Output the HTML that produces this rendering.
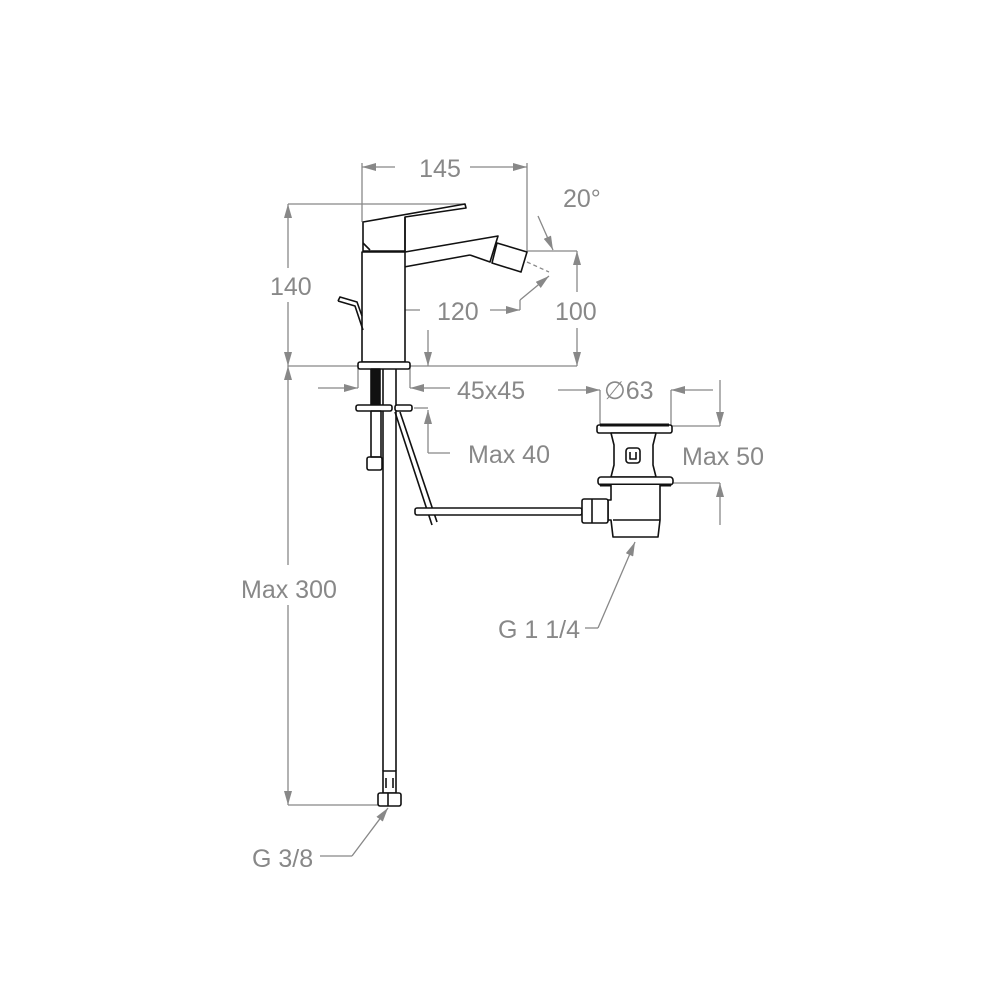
<!DOCTYPE html>
<html><head><meta charset="utf-8"><style>
html,body{margin:0;padding:0;background:#fff}
svg{display:block}
text{font-family:"Liberation Sans",sans-serif;font-size:25px;fill:#888}
</style></head><body>
<svg width="1000" height="1000" viewBox="0 0 1000 1000" xmlns="http://www.w3.org/2000/svg">
<defs>
<marker id="a" markerWidth="14" markerHeight="8" refX="14" refY="4" orient="auto" markerUnits="userSpaceOnUse">
<path d="M0,0 L14,4 L0,8 Z" fill="#888"/></marker>
</defs>
<g stroke="#888" stroke-width="1.3" fill="none">
<line x1="362" y1="163" x2="362" y2="222"/>
<line x1="527" y1="163" x2="527" y2="251"/>
<line x1="395" y1="167" x2="362" y2="167" marker-end="url(#a)"/>
<line x1="470" y1="167" x2="527" y2="167" marker-end="url(#a)"/>
<line x1="288" y1="204" x2="465" y2="204"/>
<line x1="288" y1="268" x2="288" y2="204" marker-end="url(#a)"/>
<line x1="288" y1="302" x2="288" y2="366" marker-end="url(#a)"/>
<line x1="288" y1="366" x2="577" y2="366"/>
<line x1="288" y1="565" x2="288" y2="366" marker-end="url(#a)"/>
<line x1="288" y1="605" x2="288" y2="805" marker-end="url(#a)"/>
<line x1="288" y1="805" x2="380" y2="805"/>
<line x1="527" y1="251" x2="577" y2="251"/>
<line x1="577" y1="292" x2="577" y2="251" marker-end="url(#a)"/>
<line x1="577" y1="328" x2="577" y2="366" marker-end="url(#a)"/>
<line x1="538" y1="216" x2="553" y2="250" marker-end="url(#a)"/>
<line x1="520" y1="310" x2="520" y2="300"/>
<line x1="520" y1="300" x2="549" y2="276" marker-end="url(#a)"/>
<line x1="527" y1="262" x2="549" y2="272" stroke-dasharray="4,3"/>
<line x1="385" y1="310" x2="385" y2="366"/>
<line x1="420" y1="310" x2="385" y2="310" marker-end="url(#a)"/>
<line x1="490" y1="310" x2="520" y2="310" marker-end="url(#a)"/>
<line x1="428" y1="330" x2="428" y2="366" marker-end="url(#a)"/>
<line x1="358" y1="368" x2="358" y2="388"/>
<line x1="410" y1="368" x2="410" y2="388"/>
<line x1="318" y1="388" x2="358" y2="388" marker-end="url(#a)"/>
<line x1="450" y1="388" x2="410" y2="388" marker-end="url(#a)"/>
<line x1="414" y1="408" x2="428" y2="408"/>
<line x1="428" y1="453" x2="428" y2="410" marker-end="url(#a)"/>
<line x1="428" y1="453" x2="450" y2="453"/>
<line x1="600" y1="390" x2="600" y2="425"/>
<line x1="671" y1="390" x2="671" y2="425"/>
<line x1="558" y1="390" x2="600" y2="390" marker-end="url(#a)"/>
<line x1="713" y1="390" x2="671" y2="390" marker-end="url(#a)"/>
<line x1="672" y1="426" x2="720" y2="426"/>
<line x1="673" y1="483" x2="720" y2="483"/>
<line x1="720" y1="380" x2="720" y2="426" marker-end="url(#a)"/>
<line x1="720" y1="525" x2="720" y2="483" marker-end="url(#a)"/>
<polyline points="585,628 598,628"/>
<line x1="598" y1="628" x2="635" y2="542" marker-end="url(#a)"/>
<line x1="320" y1="856" x2="352" y2="856"/>
<line x1="352" y1="856" x2="388" y2="808" marker-end="url(#a)"/>
</g>
<g stroke="#111" stroke-width="1.6" fill="none" stroke-linejoin="round">
<polygon points="363,222 465,204 466,208 405,217 405,251 363,251" fill="#fff"/>
<line x1="405" y1="217" x2="405" y2="251"/>
<polyline points="363,243 370,250"/>
<polyline points="405,252 498,236 490,262 470,255"/>
<polyline points="404,267 470,255"/>
<polygon points="497,243 527,252 521,272 492,263" fill="#fff"/>
<rect x="362" y="252" width="43" height="110" fill="#fff"/>
<polyline points="338,301 355,306 363,330"/>
<polyline points="338,301 340,297 357,302 362,316"/>
<rect x="358" y="362" width="52" height="7" rx="2" fill="#fff"/>
<rect x="371" y="369" width="9" height="36" fill="#111"/>
<line x1="383" y1="369" x2="383" y2="771"/>
<line x1="396" y1="369" x2="396" y2="771"/>
<rect x="356" y="405" width="36" height="6" rx="2" fill="#fff"/>
<rect x="395" y="405" width="17" height="6" rx="2" fill="#fff"/>
<rect x="371" y="411" width="10" height="46"/>
<rect x="367" y="457" width="15" height="13" rx="2"/>
<rect x="383" y="771" width="13" height="22"/>
<line x1="386" y1="778" x2="386" y2="788"/><line x1="393" y1="778" x2="393" y2="788"/>
<rect x="378" y="793" width="23" height="13" rx="2" fill="#fff"/>
<line x1="388" y1="793" x2="388" y2="806"/>
<line x1="395" y1="412" x2="432" y2="525"/>
<line x1="400" y1="412" x2="437" y2="522"/>
<rect x="415" y="508" width="167" height="7" rx="2" fill="#fff"/>
<rect x="597" y="425" width="75" height="8" rx="2" fill="#fff"/>
<line x1="600" y1="425" x2="669" y2="425" stroke-width="3"/>
<path d="M611,433 L656,433 L653,445 L653,465 L656,477 L611,477 L614,465 L614,445 Z" fill="#fff"/>
<rect x="626" y="448" width="14" height="15" rx="3"/>
<path d="M630,452 v7 h6 v-7"/>
<rect x="598" y="477" width="75" height="8" rx="3" fill="#fff"/>
<line x1="600" y1="485" x2="671" y2="485" stroke-width="3"/>
<path d="M611,485 L611,500 L608,500 L608,520 L611,520 L613,537 L658,537 L660,520 L660,485" fill="#fff"/>
<line x1="613" y1="520" x2="660" y2="520"/>
<rect x="582" y="499" width="26" height="24" rx="2" fill="#fff"/>
<line x1="592" y1="499" x2="592" y2="523"/>
</g>
<text x="440" y="177" text-anchor="middle">145</text>
<text x="563" y="207">20°</text>
<text x="270" y="295">140</text>
<text x="437" y="320">120</text>
<text x="555" y="320">100</text>
<text x="457" y="399">45x45</text>
<text x="604" y="399">∅63</text>
<text x="468" y="463">Max 40</text>
<text x="682" y="465">Max 50</text>
<text x="241" y="598">Max 300</text>
<text x="498" y="638">G 1 1/4</text>
<text x="252" y="867">G 3/8</text>
</svg>
</body></html>
